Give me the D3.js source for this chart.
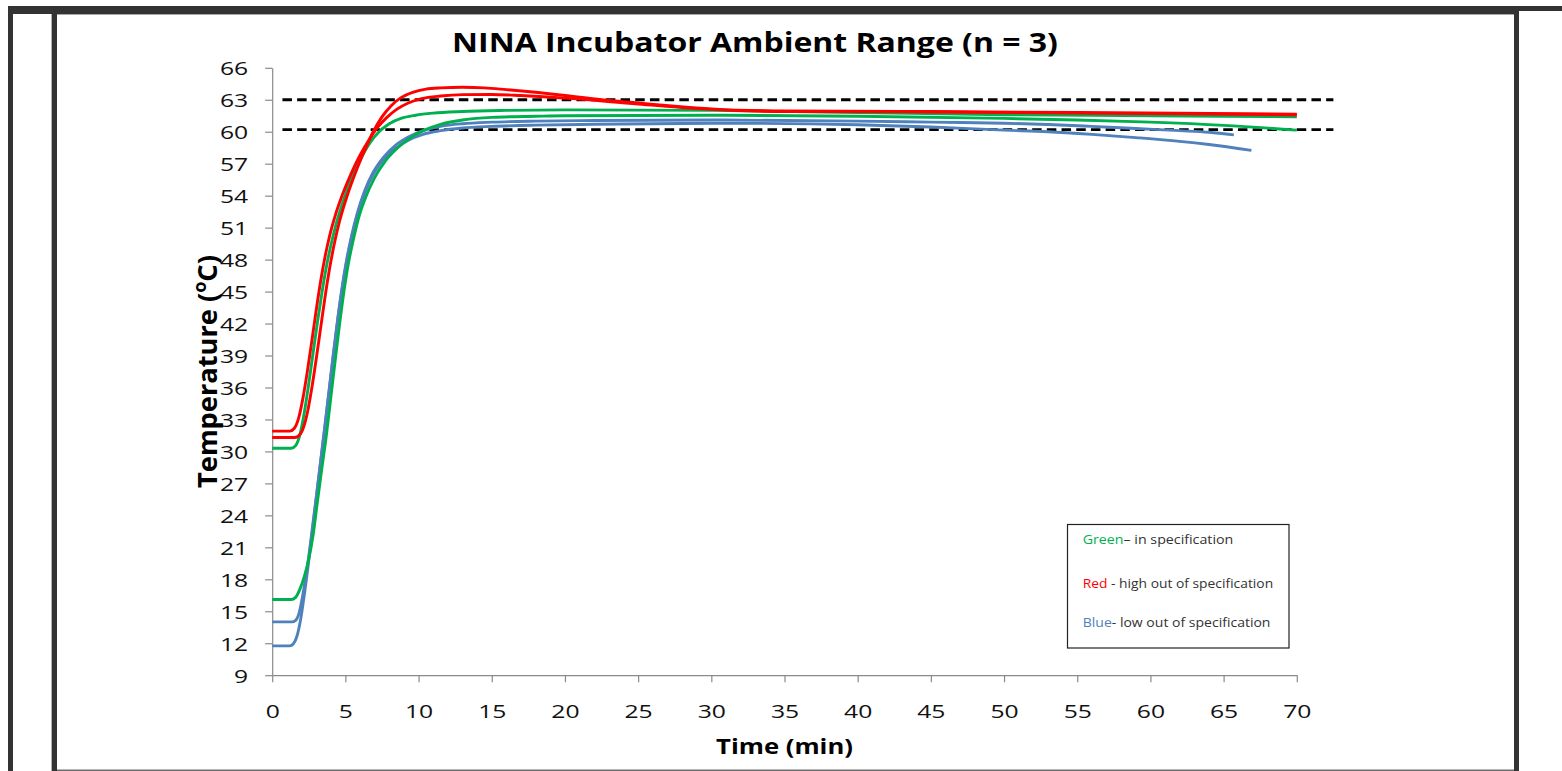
<!DOCTYPE html>
<html><head><meta charset="utf-8">
<script src="https://cdn.jsdelivr.net/npm/d3@7"></script>
<style>
html,body{margin:0;padding:0;background:#fff;}
svg{display:block;}
</style></head><body>
<svg id="chart" width="1562" height="771"></svg>
<script>
const chartTitle = "NINA Incubator Ambient Range (n = 3)";
const xTitle = "Time (min)";
const yTitleMain = "Temperature (";
const yTitleSup = "o";
const yTitleEnd = "C)";
const yTicks = [9,12,15,18,21,24,27,30,33,36,39,42,45,48,51,54,57,60,63,66];
const xTicks = [0,5,10,15,20,25,30,35,40,45,50,55,60,65,70];
const specLimits = [63, 60.2];
const specSpan = [0.7, 72.5];

// [time (min), temperature (°C)]
const blueB = [[0,11.75],[1.2,11.75],[1.45,11.95],[1.7,12.7],[1.95,14.3],[2.2,16.6],[2.45,19.2],[2.7,22.1],[3.0,25.5],[3.3,28.9],[3.6,32.3],[3.9,35.8],[4.2,39.3],[4.5,42.6],[4.8,45.5],[5.1,47.9],[5.4,49.9],[5.8,52.1],[6.3,54.2],[6.9,56.0],[7.6,57.4],[8.4,58.4],[9.3,59.2],[10.3,59.75],[11.5,60.1],[13,60.35],[15,60.5],[18,60.62],[22,60.7],[30,60.8],[40,60.65],[45,60.45],[50,60.15],[53,60.0],[56,59.75],[59,59.45],[62,59.1],[64,58.8],[66.9,58.25]];
const blueA = [[0,14.0],[1.35,14.0],[1.6,14.15],[1.85,14.9],[2.1,16.6],[2.4,19.2],[2.7,22.3],[3.0,25.6],[3.3,29.0],[3.6,32.4],[3.9,35.9],[4.2,39.4],[4.5,42.7],[4.8,45.6],[5.1,48.1],[5.4,50.1],[5.8,52.3],[6.3,54.4],[6.9,56.2],[7.6,57.6],[8.4,58.7],[9.3,59.5],[10.3,60.1],[11.5,60.5],[13,60.75],[15,60.9],[18,61.0],[22,61.05],[30,61.1],[40,61.0],[45,60.9],[50,60.8],[53,60.68],[56,60.5],[59,60.3],[62,60.1],[64,59.95],[65.7,59.7]];
const greenB = [[0,16.1],[1.3,16.1],[1.6,16.3],[1.9,17.1],[2.2,18.3],[2.5,19.9],[2.8,22.2],[3.1,25.4],[3.4,28.5],[3.7,31.5],[4.0,35.0],[4.3,38.5],[4.6,41.9],[4.9,45.0],[5.2,47.6],[5.5,49.6],[5.9,51.9],[6.4,53.9],[7.0,55.7],[7.7,57.2],[8.5,58.4],[9.4,59.4],[10.4,60.15],[11.5,60.7],[13,61.1],[15,61.35],[18,61.45],[20,61.5],[30,61.55],[40,61.45],[50,61.25],[55,61.1],[60,60.9],[65,60.6],[70,60.15]];
const greenA = [[0,30.3],[1.3,30.3],[1.6,30.55],[1.9,31.6],[2.2,33.7],[2.5,36.4],[2.8,39.3],[3.1,42.2],[3.4,44.9],[3.7,47.3],[4.0,49.3],[4.4,51.5],[4.9,53.7],[5.5,55.9],[6.1,57.6],[6.7,59.0],[7.3,60.0],[8.0,60.75],[8.8,61.25],[9.8,61.55],[11,61.75],[13,61.9],[16,62.0],[20,62.05],[30,62.0],[40,61.8],[50,61.6],[60,61.5],[70,61.4]];
const redB = [[0,31.3],[1.5,31.3],[1.8,31.45],[2.1,32.1],[2.4,33.6],[2.7,35.9],[3.0,38.6],[3.3,41.5],[3.6,44.4],[3.9,47.0],[4.2,49.2],[4.6,51.6],[5.1,53.9],[5.7,56.2],[6.3,58.2],[6.9,60.0],[7.5,61.4],[8.1,62.4],[8.8,63.2],[9.6,63.7],[10.5,64.0],[11.5,64.12],[13,64.18],[14.5,64.12],[16,63.95],[18,63.7],[20,63.4],[22.5,63.0],[25,62.7],[27.5,62.4],[30,62.15],[35,61.95],[45,61.9],[55,61.8],[70,61.65]];
const redA = [[0,31.9],[1.2,31.9],[1.5,32.15],[1.8,33.1],[2.1,35.0],[2.4,37.5],[2.7,40.3],[3.0,43.2],[3.3,45.9],[3.6,48.2],[3.9,50.1],[4.3,52.1],[4.8,54.1],[5.4,56.1],[6.0,57.8],[6.6,59.2],[7.2,60.4],[7.8,61.3],[8.5,62.1],[9.3,62.7],[10.2,63.1],[11.5,63.35],[13,63.48],[15,63.5],[17,63.4],[20,63.15],[25,62.6],[30,62.1],[35,61.9],[45,61.85],[55,61.75],[70,61.6]];

const seriesList = [
  {data: blueB, color: "#4F81BD"},
  {data: blueA, color: "#4F81BD"},
  {data: greenB, color: "#00B050"},
  {data: greenA, color: "#00B050"},
  {data: redB, color: "#FF0000"},
  {data: redA, color: "#FF0000"}
];
const legendWords = ["Green", "Red", "Blue"];
const legendRest = ["\u2013 in specification", " -  high out of specification", "- low out of specification"];
const legendColors = ["#00B050", "#FF0000", "#4F81BD"];

const svg = d3.select("#chart");
const FONT = "'Open Sans', 'Noto Sans', sans-serif";
const axisColor = "#8a8a8a";

// frame
const frame = svg.append("g");
frame.append("rect").attr("x",8).attr("y",6).attr("width",1554).attr("height",5).attr("fill","#333");
frame.append("rect").attr("x",8).attr("y",6).attr("width",1511).attr("height",8).attr("fill","#333");
frame.append("rect").attr("x",8).attr("y",6).attr("width",5).attr("height",765).attr("fill","#333");
frame.append("rect").attr("x",51).attr("y",14).attr("width",1).attr("height",757).attr("fill","#b0b0b0");
frame.append("rect").attr("x",52).attr("y",14).attr("width",5).attr("height",757).attr("fill","#333");
frame.append("rect").attr("x",1514).attr("y",6).attr("width",5).attr("height",765).attr("fill","#333");
frame.append("rect").attr("x",57).attr("y",14).attr("width",1457).attr("height",1).attr("fill","#a8a8a8");
frame.append("rect").attr("x",57).attr("y",769.5).attr("width",1457).attr("height",1.5).attr("fill","#6e6e6e");

const x = d3.scaleLinear().domain([0,70]).range([272.2, 1296.8]);
const y = d3.scaleLinear().domain([9,66]).range([675.2, 67.8]);

function fitText(t, px, py, target, rot, cross) {
  const w = t.node().getComputedTextLength();
  const s = target / w;
  t.attr("x",0).attr("y",0)
   .attr("transform", `translate(${px},${py})${rot ? ` rotate(${rot})` : ""} scale(${s},${cross || 1})`);
}

// axes
const gy = svg.append("g")
  .call(d3.axisLeft(y).tickValues(yTicks).tickSize(7).tickSizeOuter(0).tickFormat(d3.format("d")));
gy.attr("transform", `translate(${x(0)},0)`);
gy.select(".domain").attr("stroke", axisColor).attr("stroke-width", 1.2);
gy.selectAll(".tick line").attr("stroke", axisColor).attr("stroke-width", 1.2);
gy.selectAll(".tick text")
  .attr("x", 0).attr("dy", "0.36em")
  .attr("fill", "#111").attr("font-family", FONT).attr("font-size", 19)
  .attr("text-anchor", "end")
  .attr("transform", "translate(-24,0) scale(1.3,1)");

const gx = svg.append("g")
  .call(d3.axisBottom(x).tickValues(xTicks).tickSize(7).tickSizeOuter(0).tickFormat(d3.format("d")));
gx.attr("transform", `translate(0,${y(9)})`);
gx.select(".domain").attr("stroke", axisColor).attr("stroke-width", 1.2);
gx.selectAll(".tick line").attr("stroke", axisColor).attr("stroke-width", 1.2);
gx.selectAll(".tick text")
  .attr("y", 0).attr("dy", null)
  .attr("fill", "#111").attr("font-family", FONT).attr("font-size", 19)
  .attr("text-anchor", "middle")
  .attr("transform", "translate(0,43) scale(1.3,1)");

// spec limit lines
svg.append("g").selectAll("line").data(specLimits).join("line")
  .attr("x1", x(specSpan[0])).attr("x2", x(specSpan[1]))
  .attr("y1", d => y(d)).attr("y2", d => y(d))
  .attr("stroke", "#000").attr("stroke-width", 2.8)
  .attr("stroke-dasharray", "9.5,5.2");

// series
const line = d3.line().x(d => x(d[0])).y(d => y(d[1])).curve(d3.curveMonotoneX);
svg.append("g").selectAll("path").data(seriesList).join("path")
  .attr("d", d => line(d.data))
  .attr("fill", "none")
  .attr("stroke", d => d.color)
  .attr("stroke-width", 2.9)
  .attr("stroke-linejoin", "round")
  .attr("stroke-linecap", "butt");

// title
const tt = svg.append("text").text(chartTitle)
  .attr("font-family", FONT).attr("font-weight", "bold").attr("font-size", 26)
  .attr("fill", "#000").attr("text-anchor", "middle");
fitText(tt, 755, 52, 606);

const xt = svg.append("text").text(xTitle)
  .attr("font-family", FONT).attr("font-weight", "bold").attr("font-size", 21)
  .attr("fill", "#000").attr("text-anchor", "middle");
fitText(xt, 784.5, 754, 137);

const yt = svg.append("text")
  .attr("font-family", FONT).attr("font-weight", "bold").attr("font-size", 21)
  .attr("fill", "#000").attr("text-anchor", "middle");
yt.append("tspan").text(yTitleMain);
yt.append("tspan").text(yTitleSup).attr("font-size", 14).attr("dy", -8);
yt.append("tspan").text(yTitleEnd).attr("dy", 8);
fitText(yt, 216.5, 371.5, 233, -90, 1.3);

// legend
svg.append("rect").attr("x", 1067.5).attr("y", 524.5).attr("width", 221.5).attr("height", 123.5)
  .attr("fill", "#fff").attr("stroke", "#222").attr("stroke-width", 1.2);
const legBase = [544, 587.7, 627.3];
const legWidth = [150.7, 190.7, 188];
legendWords.forEach((w, i) => {
  const t = svg.append("text").attr("font-family", FONT).attr("font-size", 13.5).attr("fill", "#333");
  t.append("tspan").text(w).attr("fill", legendColors[i]);
  t.append("tspan").text(legendRest[i]);
  fitText(t, 1082.7, legBase[i], legWidth[i]);
});
</script>
</body></html>
